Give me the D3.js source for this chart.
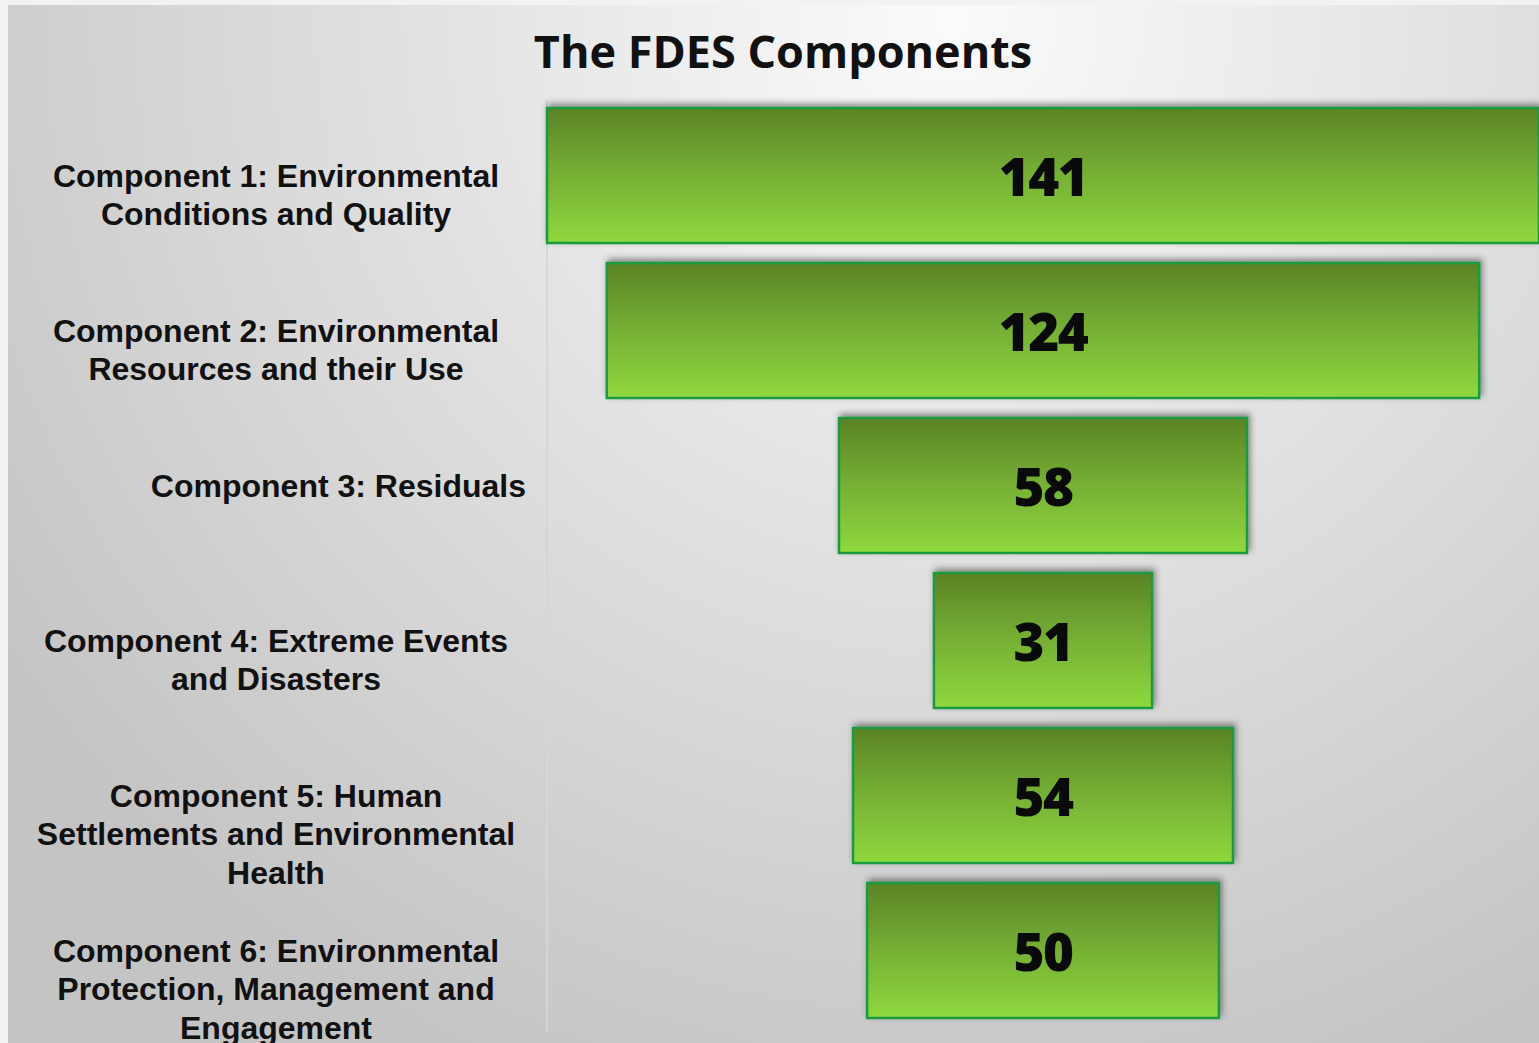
<!DOCTYPE html>
<html><head><meta charset="utf-8">
<script src="https://cdn.jsdelivr.net/npm/d3@7"></script>
<style>html,body{margin:0;padding:0;background:#f2f2f2;overflow:hidden}</style>
</head><body>
<script>
const title = "The FDES Components";
const categories = [
  ["Component 1: Environmental", "Conditions and Quality"],
  ["Component 2: Environmental", "Resources and their Use"],
  ["Component 3: Residuals"],
  ["Component 4: Extreme Events", "and Disasters"],
  ["Component 5: Human", "Settlements and Environmental", "Health"],
  ["Component 6: Environmental", "Protection, Management and", "Engagement"]
];
const values = [141, 124, 58, 31, 54, 50];

const W = 1539, H = 1043;
const svg = d3.select("body").append("svg").attr("width", W).attr("height", H);
const defs = svg.append("defs");

const bg = defs.append("radialGradient").attr("id","bg").attr("gradientUnits","userSpaceOnUse")
  .attr("cx",950).attr("cy",20).attr("r",1150);
bg.append("stop").attr("offset",0).attr("stop-color","#fbfbfb");
bg.append("stop").attr("offset",0.45).attr("stop-color","#e2e2e2");
bg.append("stop").attr("offset",1).attr("stop-color","#c4c4c4");

const bar = defs.append("linearGradient").attr("id","bar").attr("x1",0).attr("y1",0).attr("x2",0).attr("y2",1);
bar.append("stop").attr("offset",0).attr("stop-color","#5a8326");
bar.append("stop").attr("offset",0.5).attr("stop-color","#76b035");
bar.append("stop").attr("offset",1).attr("stop-color","#8fd83e");

const f = defs.append("filter").attr("id","sh").attr("x","-5%").attr("y","-20%").attr("width","110%").attr("height","140%");
f.append("feDropShadow").attr("dx",2).attr("dy",-3).attr("stdDeviation",3).attr("flood-color","#333").attr("flood-opacity",0.55);

svg.append("rect").attr("x",8).attr("y",5).attr("width",W-8).attr("height",H-5).attr("fill","url(#bg)");

svg.append("text").attr("x",783).attr("y",68).attr("text-anchor","middle")
  .attr("font-family","'Open Sans', sans-serif").attr("font-weight",700).attr("font-size",45)
  .attr("fill","#111").text(title);

const y = d3.scaleBand().domain(d3.range(values.length)).range([98, 1028])
  .paddingInner(0.129).paddingOuter(0.0645);
const x = d3.scaleLinear().domain([0, 141]).range([0, 992]);
const cx = 1043;

// axis line
svg.append("line").attr("x1",547).attr("x2",547).attr("y1",100).attr("y2",1032)
  .attr("stroke","#cdd8e3").attr("stroke-width",2);

const g = svg.append("g").selectAll("g").data(values).join("g");
g.append("rect")
  .attr("x", d => cx - x(d)/2).attr("y", (d,i) => y(i))
  .attr("width", d => x(d)).attr("height", y.bandwidth())
  .attr("fill","url(#bar)").attr("stroke","#1f9a40").attr("stroke-width",2.5)
  .attr("filter","url(#sh)");
g.append("text")
  .attr("x", cx).attr("y", (d,i) => y(i) + y.bandwidth()/2 + 20)
  .attr("text-anchor","middle")
  .attr("font-family","'Open Sans', sans-serif").attr("font-weight",800).attr("font-size",53)
  .attr("letter-spacing",-1.5)
  .attr("fill","#0a0a0a").text(d => d);

const lab = svg.append("g").selectAll("text").data(categories).join("text")
  .attr("font-family","'Liberation Sans', Arial, sans-serif").attr("font-weight",700).attr("font-size",32)
  .attr("fill","#111")
  .attr("text-anchor", d => d.length === 1 ? "end" : "middle")
  .attr("x", d => d.length === 1 ? 526 : 276)
  .attr("y", (d,i) => y(i) + y.bandwidth()/2 + 11);
lab.selectAll("tspan").data(d => d).join("tspan")
  .attr("x", function(){ return d3.select(this.parentNode).attr("x"); })
  .attr("dy", (d,j) => j === 0 ? 0 : 38.5)
  .text(d => d);
</script>
</body></html>
